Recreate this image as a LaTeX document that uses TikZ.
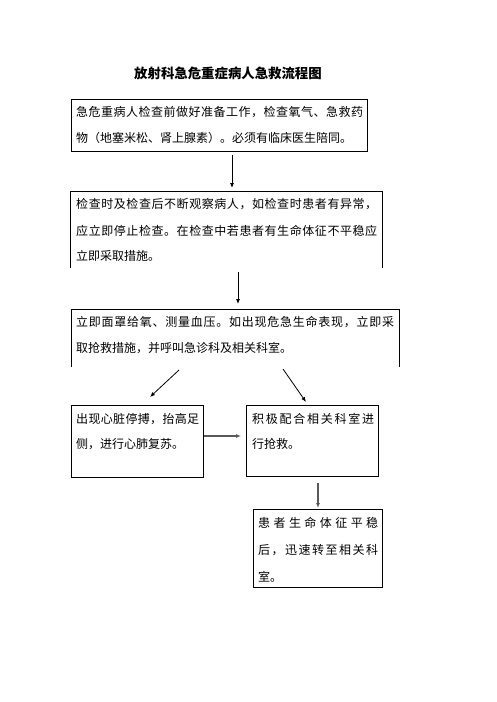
\documentclass[tikz,border=0pt]{standalone}
\usepackage{fontspec}
\setmainfont{Noto Sans CJK SC}
\usetikzlibrary{arrows.meta}
\def\sprA#1{#1\sprB}
\def\sprB#1{\ifx\relax#1\else\hfill#1\expandafter\sprB\fi}
\newcommand\spreadline[2]{\makebox[#1][l]{\sprA#2\relax}}
\tikzset{
  txt/.style={anchor=west, inner sep=0pt, font=\fontsize{12pt}{14pt}\selectfont},
  ttl/.style={inner sep=0pt, font=\fontsize{13.4pt}{15pt}\selectfont\bfseries},
  boxarea/.style={anchor=north west, inner sep=0pt, outer sep=0pt},
  frame/.style={line width=0.9pt, black},
  arr/.style={line width=0.8pt, black, -{Latex[length=5pt,width=4pt]}},
  garr/.style={line width=1.1pt, black!65, -{Latex[length=5pt,width=4pt]}},
}
\begin{document}
\begin{tikzpicture}[x=1pt,y=-1pt]
\useasboundingbox[fill=white] (0,0) rectangle (496,702);
% title
\node[ttl] (title) at (228,73) {放射科急危重症病人急救流程图};
% box 1
\node[boxarea, minimum width=296pt, minimum height=52pt] (b1) at (71,99) {};
\draw[frame] (b1.north west) rectangle (b1.south east);
\node[txt] (b1l1) at (76,112) {\spreadline{287pt}{急危重病人检查前做好准备工作，检查氧气、急救药}};
\node[txt] (b1l2) at (76,138) {物（地塞米松、肾上腺素）。必须有临床医生陪同。};
% box 2 (open bottom)
\node[boxarea, minimum width=312pt, minimum height=77pt] (b2) at (70,191) {};
\draw[frame] (b2.south west) -- (b2.north west) -- (b2.north east) -- (b2.south east);
\node[txt] (b2l1) at (76,204) {\spreadline{301pt}{检查时及检查后不断观察病人，如检查时患者有异常，}};
\node[txt] (b2l2) at (76,231) {\spreadline{301pt}{应立即停止检查。在检查中若患者有生命体征不平稳应}};
\node[txt] (b2l3) at (76,256) {立即采取措施。};
% box 3 (open bottom)
\node[boxarea, minimum width=328pt, minimum height=58pt] (b3) at (71,309) {};
\draw[frame] (b3.south west) -- (b3.north west) -- (b3.north east) -- (b3.south east);
\node[txt] (b3l1) at (76,322) {\spreadline{318pt}{立即面罩给氧、测量血压。如出现危急生命表现，立即采}};
\node[txt] (b3l2) at (76,348) {取抢救措施，并呼叫急诊科及相关科室。};
% box 4
\node[boxarea, minimum width=132pt, minimum height=72pt] (b4) at (71,405) {};
\draw[frame] (b4.north west) rectangle (b4.south east);
\node[txt] (b4l1) at (76,419) {\spreadline{123pt}{出现心脏停搏，抬高足}};
\node[txt] (b4l2) at (76,444) {侧，进行心肺复苏。};
% box 5
\node[boxarea, minimum width=132pt, minimum height=71pt] (b5) at (246,405) {};
\draw[frame] (b5.north west) rectangle (b5.south east);
\node[txt] (b5l1) at (252,419) {\spreadline{122pt}{积极配合相关科室进}};
\node[txt] (b5l2) at (252,444) {行抢救。};
% box 6
\node[boxarea, minimum width=129pt, minimum height=78pt] (b6) at (253,509) {};
\draw[frame] (b6.north west) rectangle (b6.south east);
\node[txt] (b6l1) at (258,523) {\spreadline{120pt}{患者生命体征平稳}};
\node[txt] (b6l2) at (258,550) {\spreadline{120pt}{后，迅速转至相关科}};
\node[txt] (b6l3) at (258,577) {室。};
% connectors
\coordinate (a1s) at (232,155); \coordinate (a1e) at (232,188);
\draw[arr] (a1s) -- (a1e);
\coordinate (a2s) at (238,272); \coordinate (a2e) at (238,304);
\draw[arr] (a2s) -- (a2e);
\coordinate (a3s) at (179,370); \coordinate (a3e) at (150,397);
\draw[arr] (a3s) -- (a3e);
\coordinate (a4s) at (283,369); \coordinate (a4e) at (306,402);
\draw[arr] (a4s) -- (a4e);
\coordinate (a5s) at (204,436); \coordinate (a5e) at (241,436);
\draw[garr] (a5s) -- (a5e);
\coordinate (a6s) at (318,483); \coordinate (a6e) at (318,508);
\draw[garr] (a6s) -- (a6e);
\end{tikzpicture}
\end{document}
